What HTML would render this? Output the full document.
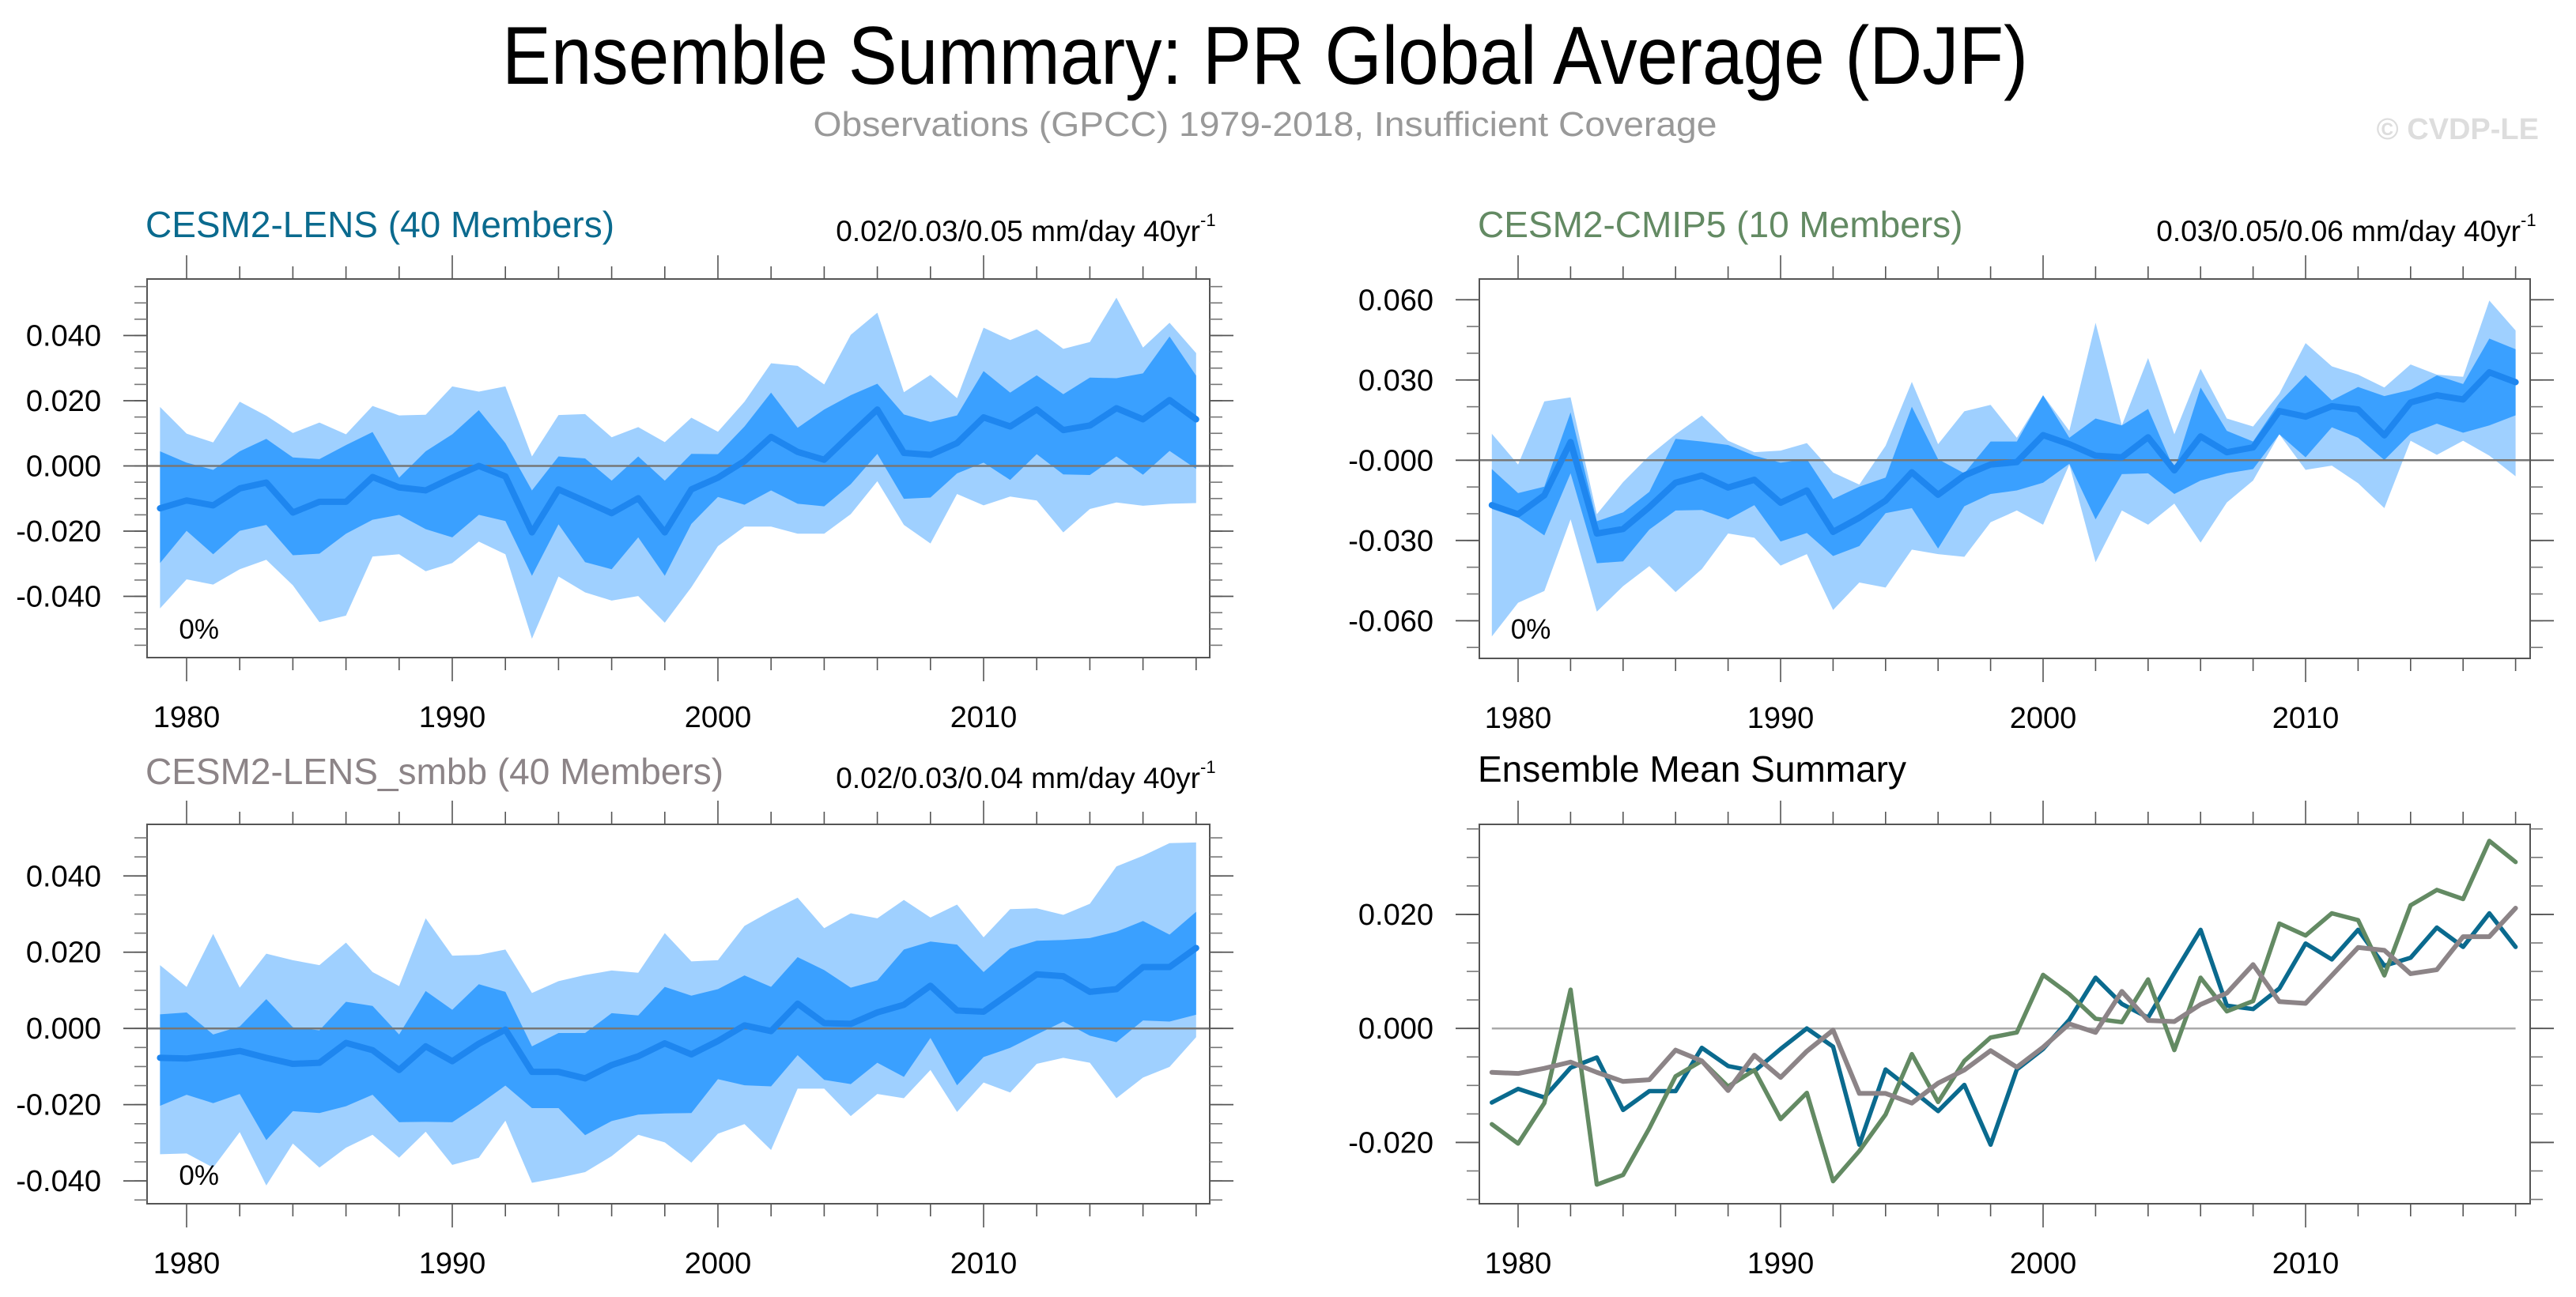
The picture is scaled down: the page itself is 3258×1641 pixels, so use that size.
<!DOCTYPE html>
<html><head><meta charset="utf-8">
<style>
html,body{margin:0;padding:0;background:#fff;}
svg{display:block;font-family:"Liberation Sans",Arial,sans-serif;}
</style></head>
<body>
<svg id="chart" width="3258" height="1641" viewBox="0 0 3258 1641" xmlns="http://www.w3.org/2000/svg">
<rect x="0" y="0" width="3258" height="1641" fill="#fff"/>
<text x="1600" y="106" font-size="104" text-anchor="middle" textLength="1930" lengthAdjust="spacingAndGlyphs" fill="#000">Ensemble Summary: PR Global Average (DJF)</text>
<text x="1600" y="172" font-size="44" text-anchor="middle" textLength="1143" lengthAdjust="spacingAndGlyphs" fill="#999">Observations (GPCC) 1979-2018, Insufficient Coverage</text>
<text x="3211" y="176" font-size="38" font-weight="bold" text-anchor="end" fill="#ddd">© CVDP-LE</text>
<g id="panels"></g>
</svg>
<script>
const years = [];
for (let y = 1979; y <= 2018; y++) years.push(y);

// CESM2-LENS
const lensMean = [-0.0130,-0.0106,-0.0121,-0.0069,-0.0051,-0.0143,-0.0110,-0.0110,-0.0034,-0.0066,-0.0075,-0.0036,0.0000,-0.0032,-0.0204,-0.0072,-0.0108,-0.0145,-0.0099,-0.0204,-0.0072,-0.0036,0.0015,0.0089,0.0043,0.0019,0.0097,0.0173,0.0040,0.0034,0.0070,0.0149,0.0121,0.0173,0.0110,0.0124,0.0177,0.0143,0.0202,0.0143];
const lensDarkHi = [0.0045,0.0010,-0.0012,0.0045,0.0083,0.0026,0.0021,0.0064,0.0104,-0.0036,0.0045,0.0097,0.0171,0.0070,-0.0075,0.0029,0.0023,-0.0045,0.0029,-0.0045,0.0037,0.0036,0.0121,0.0225,0.0117,0.0173,0.0217,0.0252,0.0158,0.0135,0.0155,0.0291,0.0225,0.0278,0.0220,0.0271,0.0269,0.0284,0.0397,0.0277];
const lensDarkLo = [-0.0298,-0.0199,-0.0271,-0.0199,-0.0181,-0.0274,-0.0269,-0.0208,-0.0165,-0.0150,-0.0194,-0.0219,-0.0150,-0.0169,-0.0337,-0.0179,-0.0295,-0.0317,-0.0219,-0.0337,-0.0178,-0.0095,-0.0119,-0.0075,-0.0116,-0.0124,-0.0056,0.0037,-0.0101,-0.0097,-0.0023,0.0010,-0.0043,0.0036,-0.0026,-0.0028,0.0029,-0.0027,0.0046,-0.0009];
const lensLightHi = [0.0181,0.0099,0.0072,0.0197,0.0154,0.0101,0.0133,0.0097,0.0184,0.0155,0.0157,0.0244,0.0228,0.0244,0.0029,0.0156,0.0159,0.0088,0.0119,0.0073,0.0148,0.0105,0.0197,0.0315,0.0307,0.0250,0.0402,0.0470,0.0226,0.0279,0.0208,0.0424,0.0386,0.0419,0.0359,0.0380,0.0516,0.0363,0.0439,0.0346];
const lensLightLo = [-0.0437,-0.0348,-0.0364,-0.0317,-0.0288,-0.0366,-0.0479,-0.0459,-0.0278,-0.0271,-0.0323,-0.0298,-0.0232,-0.0271,-0.0530,-0.0339,-0.0388,-0.0413,-0.0399,-0.0481,-0.0372,-0.0246,-0.0186,-0.0186,-0.0208,-0.0208,-0.0148,-0.0047,-0.0181,-0.0238,-0.0086,-0.0121,-0.0094,-0.0106,-0.0204,-0.0132,-0.0112,-0.0122,-0.0116,-0.0114];

// CESM2-CMIP5
const cmipMean = [-0.0168,-0.0202,-0.0131,0.0068,-0.0274,-0.0257,-0.0175,-0.0084,-0.0057,-0.0102,-0.0073,-0.0159,-0.0113,-0.0268,-0.0215,-0.0151,-0.0045,-0.0129,-0.0057,-0.0016,-0.0007,0.0094,0.0060,0.0017,0.0011,0.0086,-0.0038,0.0089,0.0030,0.0048,0.0184,0.0163,0.0202,0.0190,0.0093,0.0216,0.0243,0.0227,0.0329,0.0292];
const cmipDarkHi = [-0.0033,-0.0123,-0.0099,0.0179,-0.0228,-0.0195,-0.0118,0.0080,0.0070,0.0057,0.0017,-0.0009,0.0004,-0.0145,-0.0099,-0.0065,0.0200,0.0004,-0.0049,0.0070,0.0070,0.0243,0.0084,0.0156,0.0130,0.0192,-0.0036,0.0272,0.0110,0.0070,0.0216,0.0318,0.0224,0.0274,0.0240,0.0263,0.0317,0.0285,0.0455,0.0415];
const cmipDarkLo = [-0.0182,-0.0215,-0.0281,-0.0049,-0.0385,-0.0378,-0.0259,-0.0188,-0.0186,-0.0221,-0.0168,-0.0304,-0.0272,-0.0358,-0.0321,-0.0198,-0.0179,-0.0330,-0.0172,-0.0126,-0.0113,-0.0084,-0.0013,-0.0221,-0.0052,-0.0049,-0.0126,-0.0076,-0.0049,-0.0033,0.0097,0.0011,0.0123,0.0084,0.0001,0.0099,0.0137,0.0103,0.0130,0.0168];
const cmipLightHi = [0.0099,-0.0016,0.0220,0.0235,-0.0202,-0.0082,0.0017,0.0097,0.0167,0.0073,0.0030,0.0036,0.0064,-0.0046,-0.0091,0.0054,0.0293,0.0060,0.0183,0.0207,0.0084,0.0243,0.0110,0.0514,0.0130,0.0382,0.0097,0.0342,0.0156,0.0126,0.0249,0.0438,0.0351,0.0320,0.0272,0.0358,0.0320,0.0312,0.0597,0.0485];
const cmipLightLo = [-0.0659,-0.0533,-0.0489,-0.0221,-0.0566,-0.0471,-0.0396,-0.0493,-0.0407,-0.0274,-0.0290,-0.0394,-0.0351,-0.0560,-0.0457,-0.0476,-0.0334,-0.0351,-0.0361,-0.0232,-0.0188,-0.0241,-0.0016,-0.0381,-0.0188,-0.0241,-0.0162,-0.0308,-0.0158,-0.0076,0.0097,-0.0036,-0.0020,-0.0086,-0.0179,0.0073,0.0020,0.0073,0.0017,-0.0060];

// CESM2-LENS_smbb
const smbbMean = [-0.0077,-0.0079,-0.0070,-0.0059,-0.0077,-0.0093,-0.0090,-0.0038,-0.0057,-0.0109,-0.0047,-0.0086,-0.0040,-0.0003,-0.0114,-0.0114,-0.0131,-0.0096,-0.0073,-0.0039,-0.0068,-0.0033,0.0008,-0.0007,0.0065,0.0014,0.0012,0.0042,0.0062,0.0112,0.0047,0.0044,0.0093,0.0142,0.0137,0.0096,0.0103,0.0161,0.0161,0.0211];
const smbbDarkHi = [0.0037,0.0042,-0.0016,0.0005,0.0077,0.0003,-0.0005,0.0070,0.0059,-0.0016,0.0098,0.0049,0.0116,0.0096,-0.0047,-0.0012,-0.0012,0.0040,0.0034,0.0109,0.0086,0.0103,0.0139,0.0109,0.0187,0.0153,0.0107,0.0126,0.0207,0.0228,0.0220,0.0148,0.0209,0.0230,0.0232,0.0237,0.0254,0.0282,0.0246,0.0306];
const smbbDarkLo = [-0.0203,-0.0174,-0.0196,-0.0172,-0.0293,-0.0217,-0.0222,-0.0204,-0.0174,-0.0246,-0.0245,-0.0246,-0.0200,-0.0150,-0.0209,-0.0209,-0.0280,-0.0243,-0.0226,-0.0223,-0.0222,-0.0133,-0.0149,-0.0152,-0.0070,-0.0135,-0.0146,-0.0090,-0.0127,-0.0025,-0.0149,-0.0075,-0.0051,-0.0016,0.0018,-0.0019,-0.0036,0.0021,0.0018,0.0036];
const smbbLightHi = [0.0166,0.0109,0.0248,0.0107,0.0196,0.0179,0.0166,0.0225,0.0148,0.0111,0.0289,0.0191,0.0193,0.0207,0.0093,0.0124,0.0140,0.0152,0.0146,0.0250,0.0176,0.0179,0.0269,0.0308,0.0343,0.0263,0.0302,0.0289,0.0337,0.0291,0.0325,0.0239,0.0313,0.0315,0.0298,0.0327,0.0425,0.0453,0.0486,0.0488];
const smbbLightLo = [-0.0330,-0.0328,-0.0365,-0.0272,-0.0412,-0.0302,-0.0365,-0.0313,-0.0279,-0.0339,-0.0271,-0.0358,-0.0339,-0.0242,-0.0405,-0.0392,-0.0377,-0.0335,-0.0279,-0.0299,-0.0352,-0.0276,-0.0251,-0.0319,-0.0158,-0.0158,-0.0230,-0.0172,-0.0183,-0.0109,-0.0219,-0.0142,-0.0168,-0.0093,-0.0077,-0.0090,-0.0183,-0.0129,-0.0101,-0.0023];

const xTickYears = [1980, 1990, 2000, 2010];
const ticksSmall = [0.040, 0.020, 0.000, -0.020, -0.040];
const ticksSmallLabels = ["0.040", "0.020", "0.000", "-0.020", "-0.040"];
const ticksCmip = [0.060, 0.030, 0.000, -0.030, -0.060];
const ticksCmipLabels = ["0.060", "0.030", "-0.000", "-0.030", "-0.060"];
const ticksSummary = [0.020, 0.000, -0.020];
const ticksSummaryLabels = ["0.020", "0.000", "-0.020"];

const NS = "http://www.w3.org/2000/svg";
const root = document.getElementById('panels');
function mk(tag, attrs, parent, text) {
  const e = document.createElementNS(NS, tag);
  for (const k in attrs) e.setAttribute(k, attrs[k]);
  if (text !== undefined) e.textContent = text;
  (parent || root).appendChild(e);
  return e;
}

function drawPanel(p) {
  const g = mk('g', {});
  
  
  const xs = yr => p.x1979 + (yr - 1979) * p.dx;
  const ys = v => p.yZero - v * p.scale;
  if (p.lightHi) {
    const lp = years.map((y,i)=>xs(y)+','+ys(p.lightHi[i])).concat(years.slice().reverse().map((y,j)=>{const i=years.length-1-j;return xs(y)+','+ys(p.lightLo[i]);}));
    const l = mk('polygon', {points: lp.join(' '), fill: '#9fd0ff'}, g);
    
    
    const dp = years.map((y,i)=>xs(y)+','+ys(p.darkHi[i])).concat(years.slice().reverse().map((y,j)=>{const i=years.length-1-j;return xs(y)+','+ys(p.darkLo[i]);}));
    const d = mk('polygon', {points: dp.join(' '), fill: '#3aa0ff'}, g);
    
    
  }
  const z = mk('line', {x1: p.bx0, x2: p.bx1, y1: ys(0), y2: ys(0), stroke: p.zeroColor, 'stroke-width': 2.5}, g);
  if (p.zeroShort) { z.setAttribute('x1', xs(1979)); z.setAttribute('x2', xs(2018)); }
  
  
  p.series.forEach(s => {
    const pts = years.map((y,i)=>xs(y)+','+ys(s.values[i])).join(' ');
    const pl = mk('polyline', {points: pts, fill: 'none', stroke: s.color, 'stroke-width': s.width, 'stroke-linejoin': 'round', 'stroke-linecap': 'round'}, g);
    
    
  });
  const box = mk('rect', {x: p.bx0, y: p.by0, width: p.bx1 - p.bx0, height: p.by1 - p.by0, fill: 'none', stroke: '#555', 'stroke-width': 2}, g);
  
  
  for (let yr = 1980; yr <= 2018; yr += 2) {
    const major = xTickYears.indexOf(yr) >= 0;
    const len = major ? 30 : 16;
    mk('line', {x1: xs(yr), x2: xs(yr), y1: p.by0, y2: p.by0 - len, stroke: '#555', 'stroke-width': 1.6}, g);
    mk('line', {x1: xs(yr), x2: xs(yr), y1: p.by1, y2: p.by1 + len, stroke: '#555', 'stroke-width': 1.6}, g);
  }
  xTickYears.forEach(yr => {
    const t = mk('text', {x: xs(yr), y: p.by1 + 88, 'font-size': 38, 'text-anchor': 'middle', fill: '#000'}, g, String(yr));
    
    
  });
  for (let v = p.minorMin; v <= p.minorMax + 1e-9; v += p.minorStep) {
    const yy = ys(v);
    if (yy < p.by0 - 1 || yy > p.by1 + 1) continue;
    mk('line', {x1: p.bx0, x2: p.bx0 - 16, y1: yy, y2: yy, stroke: '#777', 'stroke-width': 1.6}, g);
    mk('line', {x1: p.bx1, x2: p.bx1 + 16, y1: yy, y2: yy, stroke: '#777', 'stroke-width': 1.6}, g);
  }
  p.ticks.forEach((v, i) => {
    const yy = ys(v);
    mk('line', {x1: p.bx0, x2: p.bx0 - 30, y1: yy, y2: yy, stroke: '#555', 'stroke-width': 1.8}, g);
    mk('line', {x1: p.bx1, x2: p.bx1 + 30, y1: yy, y2: yy, stroke: '#555', 'stroke-width': 1.8}, g);
    const t = mk('text', {x: p.labelX, y: yy + 13, 'font-size': 38, 'text-anchor': 'end', fill: '#000'}, g, p.tickLabels[i]);
    
    
  });
  const tt = mk('text', {x: p.bx0 - 2, y: p.titleY, 'font-size': 46, fill: p.titleColor}, g, p.title);
  
  
  if (p.trend) {
    const tr = mk('text', {x: p.bx1 - 12, y: p.titleY + 5, 'font-size': 37, 'text-anchor': 'end', fill: '#000'}, g, p.trend);
    
    
    mk('text', {x: p.bx1 - 12, y: p.titleY - 14, 'font-size': 22, fill: '#000'}, g, '-1');
    const pc = mk('text', {x: p.x1979 + 24, y: p.pctY, 'font-size': 35, fill: '#000'}, g, '0%');
    
    
  }
}

drawPanel({name:'cesm2-lens-panel', bx0:186, bx1:1530, by0:353, by1:832, x1979:202.4, dx:33.6, yZero:589.5, scale:4125,
  lightHi:lensLightHi, lightLo:lensLightLo, darkHi:lensDarkHi, darkLo:lensDarkLo,
  series:[{name:'cesm2-lens-mean-line', values:lensMean, color:'#1e86ef', width:8}],
  zeroColor:'#777', ticks:ticksSmall, tickLabels:ticksSmallLabels, minorMin:-0.055, minorMax:0.055, minorStep:0.005,
  labelX:128, title:'CESM2-LENS (40 Members)', titleColor:'#0a6a8e', titleY:300, trend:'0.02/0.03/0.05 mm/day 40yr', pctY:808});

drawPanel({name:'cesm2-cmip5-panel', bx0:1871, bx1:3200, by0:353, by1:833, x1979:1886.8, dx:33.2, yZero:582.3, scale:3384,
  lightHi:cmipLightHi, lightLo:cmipLightLo, darkHi:cmipDarkHi, darkLo:cmipDarkLo,
  series:[{name:'cesm2-cmip5-mean-line', values:cmipMean, color:'#1e86ef', width:8}],
  zeroColor:'#777', ticks:ticksCmip, tickLabels:ticksCmipLabels, minorMin:-0.07, minorMax:0.06, minorStep:0.01,
  labelX:1813, title:'CESM2-CMIP5 (10 Members)', titleColor:'#638a63', titleY:300, trend:'0.03/0.05/0.06 mm/day 40yr', pctY:808});

drawPanel({name:'cesm2-lens-smbb-panel', bx0:186, bx1:1530, by0:1043, by1:1523, x1979:202.4, dx:33.6, yZero:1301.2, scale:4823,
  lightHi:smbbLightHi, lightLo:smbbLightLo, darkHi:smbbDarkHi, darkLo:smbbDarkLo,
  series:[{name:'cesm2-lens-smbb-mean-line', values:smbbMean, color:'#1e86ef', width:8}],
  zeroColor:'#777', ticks:ticksSmall, tickLabels:ticksSmallLabels, minorMin:-0.045, minorMax:0.05, minorStep:0.005,
  labelX:128, title:'CESM2-LENS_smbb (40 Members)', titleColor:'#8c8487', titleY:992, trend:'0.02/0.03/0.04 mm/day 40yr', pctY:1499});

drawPanel({name:'ensemble-mean-summary-panel', bx0:1871, bx1:3200, by0:1043, by1:1523, x1979:1886.8, dx:33.2, yZero:1301.2, scale:7212,
  series:[
    {name:'cesm2-lens-summary-line', values:lensMean, color:'#0a6a8e', width:5.5},
    {name:'cesm2-cmip5-summary-line', values:cmipMean, color:'#638a63', width:5.5},
    {name:'cesm2-lens-smbb-summary-line', values:smbbMean, color:'#8c8487', width:6}],
  zeroColor:'#aaa', zeroShort:true, ticks:ticksSummary, tickLabels:ticksSummaryLabels, minorMin:-0.03, minorMax:0.035, minorStep:0.005,
  labelX:1813, title:'Ensemble Mean Summary', titleColor:'#000', titleY:989});
</script>
</body></html>
